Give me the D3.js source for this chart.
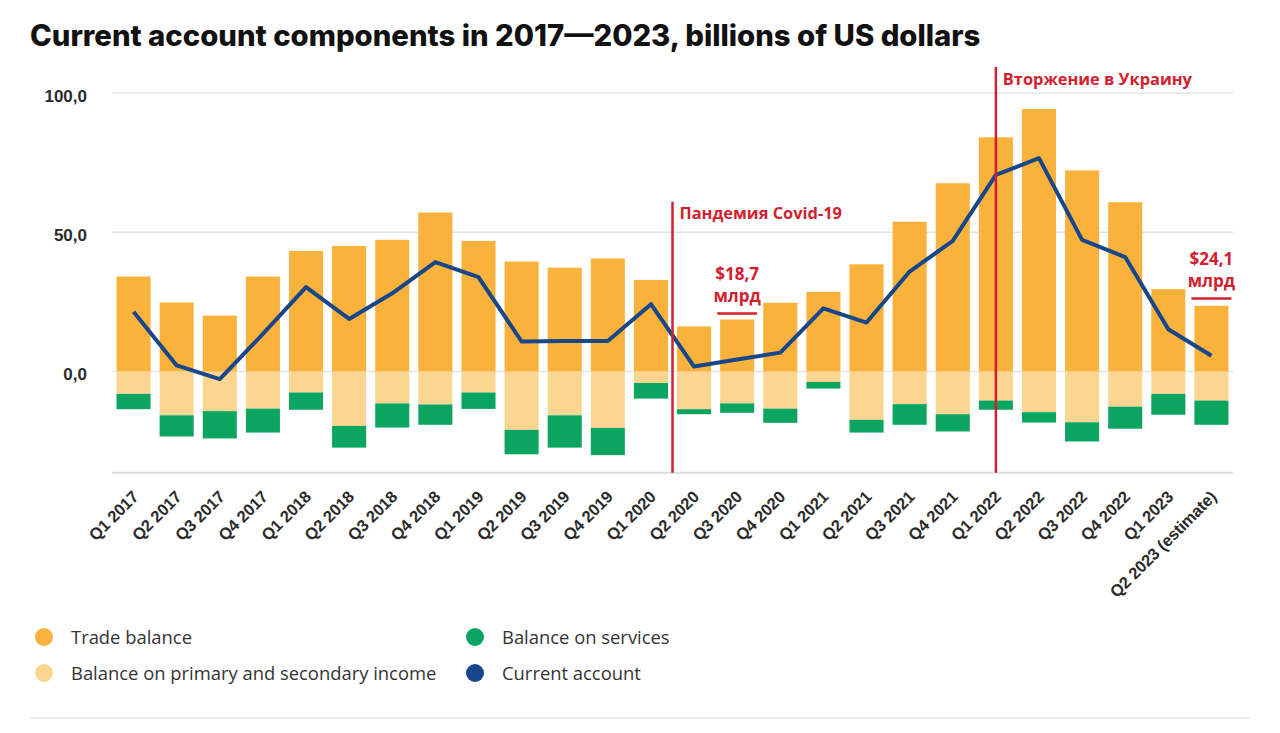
<!DOCTYPE html>
<html>
<head>
<meta charset="utf-8">
<script src="https://cdn.jsdelivr.net/npm/d3@7"></script>
<style>
  html, body { margin: 0; padding: 0; background: #fff; }
  svg { display: block; }
</style>
</head>
<body>
<svg id="chart" width="1280" height="733"></svg>
<script>
const categories = ["Q1 2017","Q2 2017","Q3 2017","Q4 2017","Q1 2018","Q2 2018","Q3 2018","Q4 2018",
  "Q1 2019","Q2 2019","Q3 2019","Q4 2019","Q1 2020","Q2 2020","Q3 2020","Q4 2020",
  "Q1 2021","Q2 2021","Q3 2021","Q4 2021","Q1 2022","Q2 2022","Q3 2022","Q4 2022",
  "Q1 2023","Q2 2023 (estimate)"];
const tradeBalance = [34.1, 24.8, 20.1, 34.1, 43.3, 45.1, 47.3, 57.1, 46.9, 39.5, 37.3, 40.6, 32.9,
  16.2, 18.7, 24.7, 28.6, 38.5, 53.8, 67.6, 84.1, 94.3, 72.2, 60.8, 29.6, 23.6];
const incomeBalance = [-8.0, -15.7, -14.2, -13.3, -7.5, -19.5, -11.4, -11.8, -7.5, -20.9, -15.7, -20.2, -4.1,
  -13.5, -11.4, -13.3, -3.7, -17.3, -11.7, -15.3, -10.4, -14.6, -18.2, -12.6, -8.0, -10.4];
const servicesBalance = [-5.5, -7.6, -9.8, -8.6, -6.2, -7.8, -8.7, -7.3, -5.9, -8.8, -11.6, -9.8, -5.6,
  -1.8, -3.4, -5.1, -2.4, -4.6, -7.4, -6.2, -3.3, -3.7, -6.9, -7.9, -7.5, -8.7];
const currentAccount = [21.5, 2.2, -2.7, 13.5, 30.3, 18.9, 28.1, 39.3, 33.9, 10.8, 11.0, 11.0, 24.2,
  1.8, 4.3, 6.8, 22.7, 17.6, 35.9, 46.9, 70.6, 76.6, 47.3, 41.1, 15.2, 5.7];
const yTicks = [0, 50, 100];
const yTickLabels = ["0,0", "50,0", "100,0"];
const events = [
  { label: "Пандемия Covid-19", at: "Q2 2020", pos: "start" },
  { label: "Вторжение в Украину", at: "Q1 2022", pos: "center" }
];
const callouts = [
  { at: "Q3 2020", lines: ["$18,7", "млрд"], value: 18.7 },
  { at: "Q2 2023 (estimate)", lines: ["$24,1", "млрд"], value: 24.1 }
];
const legendItems = [
  { name: "Trade balance", color: "#F9B23C" },
  { name: "Balance on primary and secondary income", color: "#FCD690" },
  { name: "Balance on services", color: "#0BA561" },
  { name: "Current account", color: "#17468A" }
];

const COL = { trade: "#F9B23C", income: "#FCD690", services: "#0BA561", line: "#17468A", red: "#D3202F" };

const svg = d3.select("#chart");
const x = d3.scaleBand().domain(categories).range([112, 1233]).paddingInner(0.21).paddingOuter(0.105);
const y = d3.scaleLinear().domain([-36.3, 100]).range([472.7, 93]);

// Title
svg.append("text").attr("x", 30).attr("y", 46)
  .attr("font-family", "Inter, 'Open Sans', sans-serif").attr("font-weight", 800)
  .attr("font-size", 29.3).attr("fill", "#111")
  .text("Current account components in 2017\u20142023, billions of US dollars");

// gridlines
svg.append("g").selectAll("line").data(yTicks).join("line")
  .attr("x1", 112).attr("x2", 1233).attr("y1", d => y(d)).attr("y2", d => y(d))
  .attr("stroke", "#e3e3e3").attr("stroke-width", 1.5);
svg.append("g").selectAll("text").data(yTicks).join("text")
  .attr("x", 87).attr("y", d => y(d) + 8.5).attr("text-anchor", "end")
  .attr("font-family", "'Liberation Sans', Arial, sans-serif").attr("font-weight", 700)
  .attr("font-size", 17).attr("fill", "#2b2b2b")
  .text((d, i) => yTickLabels[i]);

// bars
const idx = d3.range(categories.length);
svg.append("g").selectAll("rect").data(idx).join("rect")
  .attr("x", i => x(categories[i])).attr("width", x.bandwidth())
  .attr("y", i => y(tradeBalance[i])).attr("height", i => y(0) - y(tradeBalance[i]))
  .attr("fill", COL.trade);
svg.append("g").selectAll("rect").data(idx).join("rect")
  .attr("x", i => x(categories[i])).attr("width", x.bandwidth())
  .attr("y", y(0)).attr("height", i => y(incomeBalance[i]) - y(0))
  .attr("fill", COL.income);
svg.append("g").selectAll("rect").data(idx).join("rect")
  .attr("x", i => x(categories[i])).attr("width", x.bandwidth())
  .attr("y", i => y(incomeBalance[i])).attr("height", i => y(incomeBalance[i] + servicesBalance[i]) - y(incomeBalance[i]))
  .attr("fill", COL.services);

// bottom axis line
svg.append("line").attr("x1", 112).attr("x2", 1233).attr("y1", y(-36.3)).attr("y2", y(-36.3))
  .attr("stroke", "#dcdcdc").attr("stroke-width", 2);

// x labels
svg.append("g").selectAll("text").data(categories).join("text")
  .attr("transform", d => `translate(${x(d) + x.bandwidth() / 2 + 6},${498}) rotate(-45)`)
  .attr("text-anchor", "end")
  .attr("font-family", "'Liberation Sans', Arial, sans-serif").attr("font-weight", 700)
  .attr("font-size", 16.5).attr("fill", "#2b2b2b").attr("letter-spacing", -0.2)
  .text(d => d);

// current account line
const line = d3.line().x((d, i) => x(categories[i]) + x.bandwidth() / 2).y(d => y(d));
svg.append("path").datum(currentAccount).attr("d", line)
  .attr("fill", "none").attr("stroke", COL.line).attr("stroke-width", 4)
  .attr("stroke-linejoin", "round");

// event lines
events.forEach(ev => {
  const bx = ev.pos === "start" ? x(ev.at) - x.step() * x.paddingInner() / 2 : x(ev.at) + x.bandwidth() / 2;
  const top = ev.pos === "start" ? 201.7 : 67;
  svg.append("line").attr("x1", bx).attr("x2", bx).attr("y1", top).attr("y2", y(-36.3))
    .attr("stroke", COL.red).attr("stroke-width", 2.5);
  svg.append("text").attr("x", bx + 7).attr("y", top + 17.5)
    .attr("font-family", "'Open Sans', sans-serif").attr("font-weight", 700)
    .attr("font-size", 16.4).attr("fill", COL.red).text(ev.label);
});

// callouts
callouts.forEach(c => {
  const cx = x(c.at) + x.bandwidth() / 2;
  const g = svg.append("g");
  g.append("text").attr("x", cx).attr("y", y(c.value) - 39.5).attr("text-anchor", "middle")
    .attr("font-family", "'Open Sans', sans-serif").attr("font-weight", 700)
    .attr("font-size", 17).attr("fill", COL.red).text(c.lines[0]);
  g.append("text").attr("x", cx).attr("y", y(c.value) - 17.5).attr("text-anchor", "middle")
    .attr("font-family", "'Open Sans', sans-serif").attr("font-weight", 700)
    .attr("font-size", 17).attr("fill", COL.red).text(c.lines[1]);
  g.append("line").attr("x1", cx - 20).attr("x2", cx + 20)
    .attr("y1", y(c.value) - 6).attr("y2", y(c.value) - 6)
    .attr("stroke", COL.red).attr("stroke-width", 2.5);
});

// legend
const lg = svg.append("g");
legendItems.forEach((it, i) => {
  const col = Math.floor(i / 2), row = i % 2;
  const lx = 44 + col * 431, ly = 637 + row * 36;
  lg.append("circle").attr("cx", lx).attr("cy", ly).attr("r", 9).attr("fill", it.color);
  lg.append("text").attr("x", lx + 27).attr("y", ly + 6.5)
    .attr("font-family", "'Open Sans', sans-serif").attr("font-size", 18.4).attr("fill", "#333")
    .text(it.name);
});

svg.append("line").attr("x1", 30).attr("x2", 1250).attr("y1", 718).attr("y2", 718)
  .attr("stroke", "#e6e6e6").attr("stroke-width", 1.5);
</script>
</body>
</html>
